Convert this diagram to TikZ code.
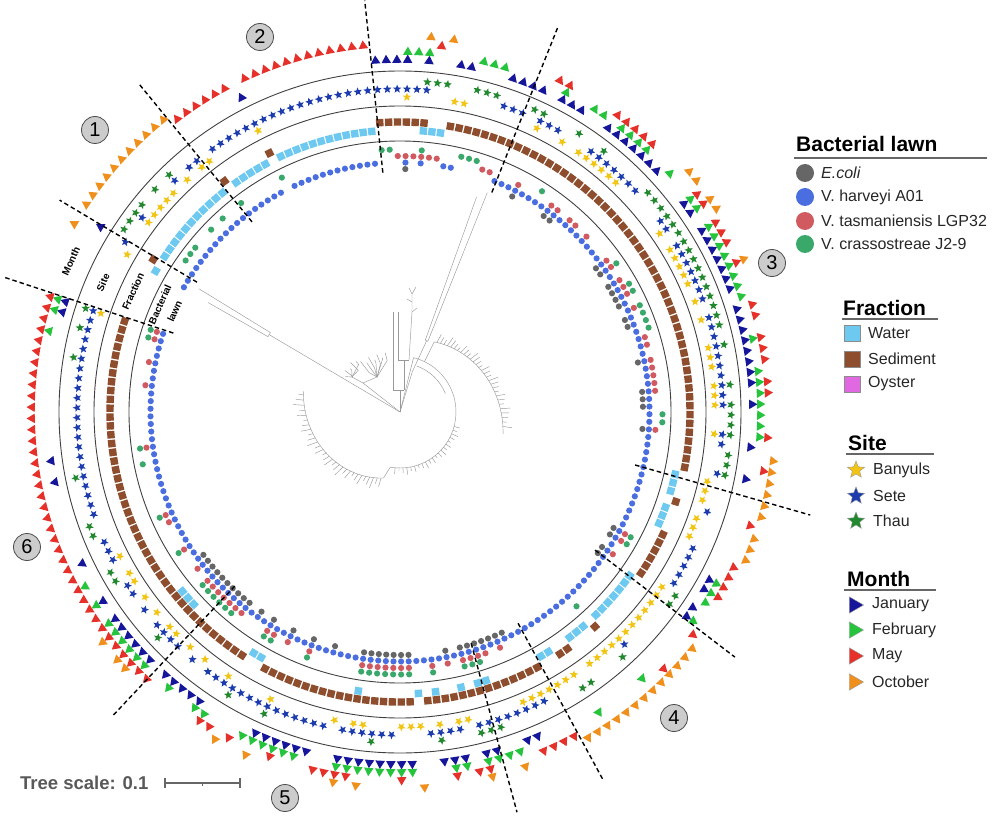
\documentclass[tikz,border=0pt]{standalone}
\usepackage{fontspec}
\setmainfont{Liberation Sans}
\usetikzlibrary{shapes.geometric}

\definecolor{colEcoli}{HTML}{666666}
\definecolor{colHarveyi}{HTML}{4A6EE0}
\definecolor{colTasma}{HTML}{D05A60}
\definecolor{colCrasso}{HTML}{3AA86A}
\definecolor{colWater}{HTML}{6EC9F0}
\definecolor{colSediment}{HTML}{8E4E2E}
\definecolor{colOyster}{HTML}{E068E0}
\definecolor{colBanyuls}{HTML}{F2C414}
\definecolor{colSete}{HTML}{1C3CAE}
\definecolor{colThau}{HTML}{22882E}
\definecolor{colJan}{HTML}{16169A}
\definecolor{colFeb}{HTML}{26C43C}
\definecolor{colMay}{HTML}{E6302A}
\definecolor{colOct}{HTML}{EF8F1C}

\makeatletter
\newcommand\hascode[3]{\edef\hc@tmp{\noexpand\in@{#1}{#2}}\hc@tmp\ifin@#3\fi}
\makeatother

\tikzset{
  frac/.style={rectangle, inner sep=0pt, minimum size=7.4pt},
  site/.style={star, star points=5, star point ratio=2.3, inner sep=0pt, minimum size=8.8pt},
  month/.style={regular polygon, regular polygon sides=3, inner sep=0pt, minimum size=11pt},
  ringline/.style={draw=black!75, line width=0.9pt},
  cut/.style={draw=black, dash pattern=on 4.5pt off 3pt, line width=1.4pt},
  tree/.style={draw=black!40, line width=0.45pt},
  groupnum/.style={circle, draw=black!70, fill=black!20, line width=0.8pt, minimum size=27pt, inner sep=0pt, font=\fontsize{20}{20}\selectfont},
  legtitle/.style={anchor=base west, inner sep=0pt, font=\bfseries\fontsize{21}{24}\selectfont},
  legitem/.style={anchor=west, inner sep=0pt, text=black!85, font=\fontsize{16}{19}\selectfont},
  legrule/.style={draw=black!60, line width=1.2pt},
  legdot/.style={circle, inner sep=0pt, minimum size=18pt},
  legsq/.style={rectangle, draw=black!45, line width=0.5pt, inner sep=0pt, minimum size=16.5pt},
  legstar/.style={star, star points=5, star point ratio=2.3, draw=black!40, line width=0.4pt, inner sep=0pt, minimum size=18pt},
  legtri/.style={regular polygon, regular polygon sides=3, draw=black!40, line width=0.4pt, inner sep=0pt, minimum size=19pt, rotate=-90},
  ringlabel/.style={font=\bfseries\fontsize{10}{11.5}\selectfont, align=center, inner sep=0pt}
}

\begin{document}
\begin{tikzpicture}[x=1pt,y=1pt]
\useasboundingbox (-400,-410) rectangle (600,412);

% tree
\begin{scope}[tree]
  \draw (0,0) -- (149.4:152);
  \draw (148.5:152) arc[start angle=148.5, end angle=150.3, radius=152];
  \draw (148.5:152) -- (148.5:236);
  \draw (150.3:152) -- (150.3:221);
  \draw (0,0) -- (73:42) -- (69.5:76);
  \draw (68.5:76) arc[start angle=68.5, end angle=70.6, radius=76];
  \draw (68.5:76) -- (68.3:236);
  \draw (70.6:76) -- (70.4:228);
  % top clade
  \draw (0,0) -- (0,22);
  \draw (-7,22) -- (4,22);
  \draw (-7,22) -- (-7,100);
  \draw (4,22) -- (4,52);
  \draw (-2,52) -- (9,52);
  \draw (-2,52) -- (-2,100);
  \draw (9,52) -- (12,100) -- (12,118);
  \draw (12,100) -- (17,104) (12,110) -- (7,113) (12,118) -- (9,124) (12,118) -- (16,125);
  % upper left clade
  \draw (0,0) -- (-37,29);
  \draw (-37,29) -- (-48,35);
  \draw (-37,29) -- (-23,35);
  \foreach \t [count=\k] in {104,108,...,128}
    \draw (-23,35) -- (\t:{50+mod(\k*3,7)}) -- (\t:{56+mod(\k*5,9)});
  \foreach \t [count=\k] in {131,135,...,147}
    \draw (-48,35) -- (\t:{58+mod(\k*5,9)}) -- (\t:{64+mod(\k*3,7)});
  % main clade
  \draw (0,0) -- (76:56);
  \draw (76:56) arc[start angle=76, end angle=-100, radius=56];
  \draw (70:49) arc[start angle=70, end angle=22, radius=49];
  \draw (64:56) -- (64:78);
  \draw plot[domain=64:-12, samples=40, smooth] (\x:{78+0.36*(64-\x)});
  \foreach \t [count=\k] in {62,59.5,...,-10}
    \draw (\t:{78+0.36*(64-\t)}) -- (\t:{82+0.36*(64-\t)+mod(\k*5,7)});
  \foreach \t [count=\k] in {-15,-19,...,-95}
    \draw (\t:56) -- (\t:{59+mod(\k*3,5)});
  \draw (-100:56) -- (-104:68);
  \draw plot[domain=-104:-192, samples=40, smooth] (\x:{68+0.35*(-104-\x)});
  \foreach \t [count=\k] in {-106,-109,...,-190}
    \draw (\t:{68+0.35*(-104-\t)}) -- (\t:{72+0.35*(-104-\t)+mod(\k*5,8)});
\end{scope}

% ring borders
\draw[ringline] (0,0) circle (271);
\draw[ringline] (0,0) circle (306);
\draw[ringline] (0,0) circle (341);

% leaves: lawn / fraction / site / month
\foreach \la/\fr/\si/\mo [count=\i from 0] in {
 b/w/y/o, b/s/b/j, b/w/g/o, bg/w/g/o, bg/w/gby/o, bg/w/gy/o, b/w/y/o, b/w/yg/o, bg/w/y/o, b/w/gb/o,
 bg/w/y/o, b/w/b/o, b/w/by/o, bg/s/y/m, b/w/b/m, b/w/b/m, b/w/b/m, b/w/b/m, b/w/b/m, g/s/by/j,
 b/w/b/m, b/w/b/m, b/w/b/m, b/w/b/m, b/w/b/m, b/w/b/m, b/w/b/m, b/w/b/m, b/w/b/m, b/w/b/m,
 b/w/b/m, b/w/b/m, g/s/b/j, g/s/b/j, r/s/b/j, kbr/s/by/jf, r/s/b/f, bgr/ws/bg/jfo, r/w/g/m, r/w/g/o,
 b/s/y/j, b/s/y/j, g/s/g/f, g/s/g/f, g/s/g/f, r/s/b/j, r/s/b/j, b/s/b/j, b/s/g/j, b/s/ybg/m,
 kbr/s/b/jfm, b/s/b/j, b/s/y/j, bg/s/g/f, b/s/y/f, kbr/s/yb/jm, kbr/s/ybg/jfm, b/s/yb/jfm, br/s/yb/jfm, br/s/yb/jfm,
 b/s/b/j, br/s/b/j, b/s/g/f, b/s/g/o, b/s/g/o, kbr/s/bg/jfm, kbrg/s/ybg/jfmo, b/s/g/o, kbr/s/ybg/jfm, kbrg/s/ybg/jfm,
 kbrg/s/ybg/jfm, kb/s/ybg/jf, brg/s/ybg/jfmo, kbg/s/bg/jf, kbg/s/ybg/jf, bg/s/g/f, br/s/ybg/jm, br/s/bg/jm, b/s/b/j, kbr/s/ybg/jfm,
 br/s/yb/jm, br/s/yb/jm, br/s/b/jf, kbr/s/ybg/jfm, kb/s/yb/fm, kb/s/ybg/jf, bg/s/g/f, bg/s/g/f, kbr/s/ybg/fm, b/s/b/j,
 b/s/g/o, b/s/g/mo, b/s/bg/jo, b/w/y/o, b/w/y/o, b/w/y/o, b/s/b/m, b/w/y/o, b/w/y/o, b/w/y/o,
 b/s/b/m, b/s/b/m, kbrg/s/b/jfm, kbrg/s/b/jfm, b/s/b/f, kbr/s/yg/j, kb/w/yg/jf, b/w/y/m, b/w/y/o, b/w/y/o,
 b/w/y/o, b/w/y/mo, b/w/yb/o, bg/s/yg/fo, b/w/y/o, b/w/y/o, b/w/y/o, b/s/g/o, b/s/yg/fo, b/w/y/o,
 b/w/y/o, b/s/y/m, b/s/yb/m, kb/s/yb/m, kbr/s/yb/jm, kb/s/b/j, kbr/s/b/fo, kbrg/ws/bg/f, kbrg/ws/bg/jf, kbrg/s/bg/jfmo,
 b/ws/y/m, kbr/s/yb/jf, b/s/b/jfm, brg/ws/ybg/j, b/s/b/x, b/w/y/o, kbrg/s/y/jf, kbrg/s/y/jfm, kbrg/s/b/jf, kbrg/s/b/jf,
 kbrg/s/bg/jf, kbrg/s/yb/jfo, kbrg/ws/yb/jfm, b/s/b/jfmo, b/s/y/m, b/s/b/m, kb/s/b/j, b/s/b/jf, b/s/b/jf, kbrg/s/b/jfm,
 b/s/b/jf, b/s/ybg/jfo, kbr/s/b/f, b/s/b/m, brg/w/b/o, kbrg/w/bg/m, b/s/yb/fm, kb/s/b/jf, b/s/b/j, kbr/s/y/j,
 kbrg/s/b/jf, kbrg/s/y/j, kbrg/s/b/m, kbrg/s/yb/jfm, kbrg/ws/ybg/jfmo, kbrg/ws/b/jfmo, kb/ws/y/jfm, kbr/s/b/jfmo, kb/s/y/jfm, b/s/b/m,
 brg/s/yb/jfm, b/s/yg/m, b/s/g/fm, b/s/yb/m, br/s/b/jm, brg/s/b/m, b/s/g/m, b/s/g/m, b/s/b/m, b/s/b/m,
 b/s/b/m, b/s/b/m, bg/s/bg/jm, b/s/b/m, brg/s/b/jm, b/s/b/m, b/s/b/m, b/s/b/m, b/s/b/m, b/s/b/m,
 b/s/b/m, b/s/b/m, br/s/b/m, b/s/b/m, b/s/bg/m, br/s/b/m, b/s/b/fm, b/s/bg/m, brg/s/b/jfm, brg/s/ybg/jfm}{
  \pgfmathsetmacro\a{150-1.75*\i}
  \hascode{k}{\la}{\fill[colEcoli] (\a:243) circle (3.1);}
  \hascode{b}{\la}{\fill[colHarveyi] (\a:249.5) circle (3.1);}
  \hascode{r}{\la}{\fill[colTasma] (\a:256) circle (3.1);}
  \hascode{g}{\la}{\fill[colCrasso] (\a:262.5) circle (3.1);}
  \hascode{w}{\fr}{\node[frac, fill=colWater, rotate=\a] (fw\i) at (\a:282) {};}
  \hascode{s}{\fr}{\node[frac, fill=colSediment, rotate=\a] (fs\i) at (\a:290) {};}
  \hascode{y}{\si}{\node[site, fill=colBanyuls, rotate=\a-90] (sy\i) at (\a:315) {};}
  \hascode{b}{\si}{\node[site, fill=colSete, rotate=\a-90] (sb\i) at (\a:323) {};}
  \hascode{g}{\si}{\node[site, fill=colThau, rotate=\a-90] (sg\i) at (\a:331) {};}
  \hascode{j}{\mo}{\node[month, fill=colJan, rotate=\a-90] (mj\i) at (\a:352) {};}
  \hascode{f}{\mo}{\node[month, fill=colFeb, rotate=\a-90] (mf\i) at (\a:360) {};}
  \hascode{m}{\mo}{\node[month, fill=colMay, rotate=\a-90] (mm\i) at (\a:368) {};}
  \hascode{o}{\mo}{\node[month, fill=colOct, rotate=\a-90] (mo\i) at (\a:376) {};}
}

% group cuts
\draw[cut] (160.8:240) -- (161.2:419);
\draw[cut] (147.4:241) -- (148.1:401);
\draw[cut] (127.9:241) -- (128.5:418);
\draw[cut] (94.1:240) -- (94.9:413);
\draw[cut] (67.3:238) -- (67.7:416);
\draw[cut] (-12.7:241) -- (-14.1:423);
\draw[cut] (-35.3:239) -- (-36.2:415);
\draw[cut] (-60.8:242) -- (-61.1:420);
\draw[cut] (-72.9:242) -- (-73.7:417);
\draw[cut] (-133.5:240) -- (-133.4:417);

% ring names in the gap
\node[ringlabel, rotate=65.4] (lblMonth) at (155.4:362) {Month};
\node[ringlabel, rotate=66.4] (lblSite) at (156.4:324) {Site};
\node[ringlabel, rotate=65.7] (lblFrac) at (155.7:293) {Fraction};
\node[ringlabel, rotate=65.9] (lblLawn) at (155.9:255) {Bacterial\\[4.5pt]lawn};

% group numbers
\node[groupnum] (g1) at (-305,282) {1};
\node[groupnum] (g2) at (-140,375) {2};
\node[groupnum] (g3) at (372,149) {3};
\node[groupnum] (g4) at (274,-306) {4};
\node[groupnum] (g5) at (-115,-386) {5};
\node[groupnum] (g6) at (-373,-135) {6};

% legend: bacterial lawn
\node[legtitle] (lawnT) at (396,260) {Bacterial lawn};
\draw[legrule] (394,254) -- (587,254);
\node[legdot, fill=colEcoli] (lawn1) at (405,239) {};
\node[legdot, fill=colHarveyi] (lawn2) at (405,215) {};
\node[legdot, fill=colTasma] (lawn3) at (405,191) {};
\node[legdot, fill=colCrasso] (lawn4) at (405,168) {};
\node[legitem] (lawn1t) at (421,239) {\itshape E.coli};
\node[legitem] (lawn2t) at (421,215) {V. harveyi A01};
\node[legitem] (lawn3t) at (421,191) {V. tasmaniensis LGP32};
\node[legitem] (lawn4t) at (421,168) {V. crassostreae J2-9};

% legend: fraction
\node[legtitle] (fracT) at (443,97) {Fraction};
\draw[legrule] (442,93) -- (538,93);
\node[legsq, fill=colWater] (frac1) at (452,79) {};
\node[legsq, fill=colSediment] (frac2) at (452,53) {};
\node[legsq, fill=colOyster] (frac3) at (452,28) {};
\node[legitem] (frac1t) at (468,79) {Water};
\node[legitem] (frac2t) at (468,53) {Sediment};
\node[legitem] (frac3t) at (468,28) {Oyster};

% legend: site
\node[legtitle] (siteT) at (448,-38) {Site};
\draw[legrule] (446,-42) -- (534,-42);
\node[legstar, fill=colBanyuls] (site1) at (456,-58) {};
\node[legstar, fill=colSete] (site2) at (456,-84) {};
\node[legstar, fill=colThau] (site3) at (456,-109) {};
\node[legitem] (site1t) at (473,-58) {Banyuls};
\node[legitem] (site2t) at (473,-84) {Sete};
\node[legitem] (site3t) at (473,-109) {Thau};

% legend: month
\node[legtitle] (monT) at (447,-174) {Month};
\draw[legrule] (444,-178) -- (536,-178);
\node[legtri, fill=colJan] (mon1) at (454,-193) {};
\node[legtri, fill=colFeb] (mon2) at (454,-218) {};
\node[legtri, fill=colMay] (mon3) at (454,-244) {};
\node[legtri, fill=colOct] (mon4) at (454,-270) {};
\node[legitem] (mon1t) at (472,-193) {January};
\node[legitem] (mon2t) at (472,-218) {February};
\node[legitem] (mon3t) at (472,-244) {May};
\node[legitem] (mon4t) at (472,-270) {October};

% tree scale
\node[anchor=west, inner sep=0pt, text=black!65, font=\bfseries\fontsize{18.5}{21}\selectfont] (scaleT) at (-380,-371) {Tree scale: 0.1};
\draw[black!60, line width=1.2pt] (-235,-371) -- (-160,-371);
\draw[black!60, line width=1.2pt] (-235,-366) -- (-235,-376);
\draw[black!60, line width=1.2pt] (-160,-366) -- (-160,-376);
\draw[black!60, line width=1pt] (-197.5,-371) -- (-197.5,-374);
\end{tikzpicture}
\end{document}
